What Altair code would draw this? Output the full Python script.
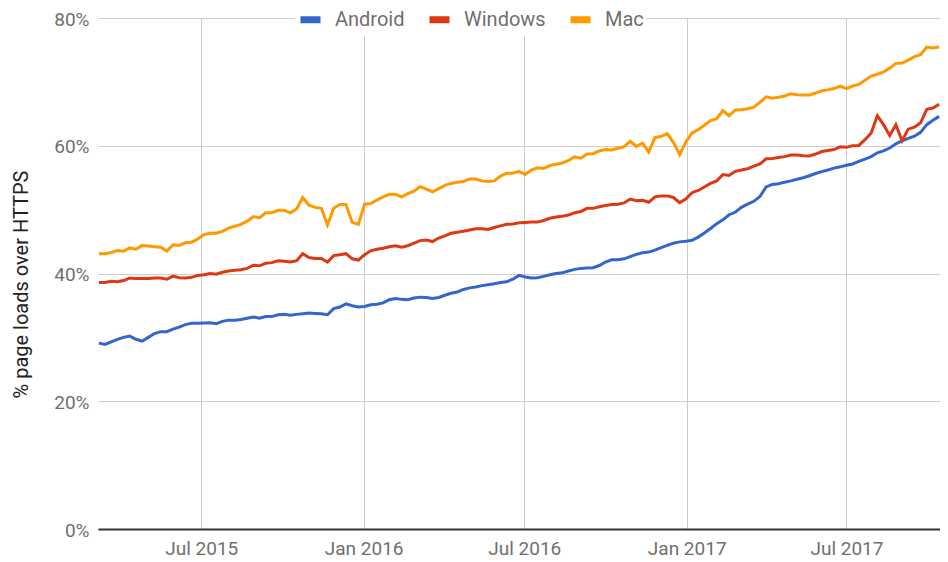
import altair as alt
import pandas as pd

series_names = ["Android", "Windows", "Mac"]
series_colors = ["#3366CC", "#DC3912", "#FF9900"]

# weekly observations, first week 2015-03-07
start_date = "2015-03-07"

android = [29.1, 28.9, 29.3, 29.7, 30.0, 30.2, 29.7, 29.4, 30.0, 30.6,
           30.9, 30.9, 31.3, 31.6, 32.0, 32.2, 32.2, 32.25, 32.3, 32.15,
           32.5, 32.7, 32.7, 32.8, 33.0, 33.2, 33.0, 33.25, 33.25, 33.55,
           33.6, 33.45, 33.6, 33.7, 33.8, 33.75, 33.7, 33.55, 34.5, 34.75,
           35.25, 34.95, 34.75, 34.85, 35.1, 35.2, 35.4, 35.9, 36.1, 35.95,
           35.9, 36.15, 36.3, 36.25, 36.1, 36.25, 36.6, 36.9, 37.1, 37.5,
           37.75, 37.9, 38.1, 38.25, 38.4, 38.6, 38.7, 39.1, 39.7, 39.45,
           39.3, 39.35, 39.55, 39.8, 40.0, 40.1, 40.4, 40.65, 40.8, 40.85,
           40.9, 41.25, 41.8, 42.15, 42.15, 42.3, 42.65, 43.0, 43.25, 43.35,
           43.65, 44.05, 44.4, 44.75, 44.95, 45.05, 45.2, 45.7, 46.35, 47.05,
           47.8, 48.4, 49.2, 49.6, 50.35, 50.85, 51.3, 52.05, 53.55, 53.95,
           54.05, 54.3, 54.5, 54.75, 55.0, 55.3, 55.65, 55.95, 56.2, 56.5,
           56.7, 56.95, 57.15, 57.55, 57.9, 58.3, 58.9, 59.2, 59.65, 60.3,
           60.75, 61.15, 61.5, 62.1, 63.3, 64.0, 64.6]

windows = [38.6, 38.6, 38.8, 38.7, 38.9, 39.3, 39.2, 39.2, 39.2, 39.3,
           39.3, 39.1, 39.6, 39.35, 39.3, 39.4, 39.7, 39.8, 40.0, 39.9,
           40.2, 40.4, 40.5, 40.6, 40.8, 41.3, 41.2, 41.6, 41.7, 42.0,
           41.9, 41.8, 42.0, 43.1, 42.5, 42.35, 42.35, 41.8, 42.8, 42.95,
           43.1, 42.3, 42.1, 42.95, 43.55, 43.8, 43.95, 44.2, 44.35, 44.1,
           44.35, 44.75, 45.15, 45.25, 45.0, 45.55, 45.9, 46.3, 46.45, 46.6,
           46.8, 47.0, 47.0, 46.9, 47.2, 47.45, 47.7, 47.75, 47.95, 48.0,
           48.05, 48.05, 48.3, 48.65, 48.85, 48.95, 49.15, 49.5, 49.7, 50.2,
           50.2, 50.45, 50.65, 50.8, 50.85, 51.05, 51.65, 51.4, 51.45, 51.15,
           52.0, 52.15, 52.15, 51.9, 51.1, 51.65, 52.65, 53.0, 53.55, 54.1,
           54.5, 55.5, 55.35, 56.0, 56.2, 56.4, 56.8, 57.15, 57.95, 58.0,
           58.15, 58.3, 58.55, 58.55, 58.45, 58.4, 58.7, 59.1, 59.25, 59.4,
           59.85, 59.75, 60.0, 60.05, 60.95, 62.0, 64.7, 63.3, 61.6, 63.3,
           60.8, 62.6, 62.9, 63.6, 65.7, 65.9, 66.5]

mac = [43.1, 43.1, 43.3, 43.6, 43.5, 44.0, 43.8, 44.4, 44.3, 44.2,
       44.1, 43.5, 44.5, 44.4, 44.8, 44.9, 45.4, 46.1, 46.3, 46.3,
       46.6, 47.1, 47.4, 47.7, 48.2, 48.9, 48.7, 49.5, 49.5, 49.9,
       49.9, 49.5, 50.1, 51.9, 50.7, 50.35, 50.2, 47.6, 50.2, 50.8,
       50.8, 48.0, 47.7, 50.85, 50.95, 51.5, 52.0, 52.4, 52.4, 52.0,
       52.5, 52.9, 53.6, 53.2, 52.8, 53.3, 53.8, 54.1, 54.3, 54.4,
       54.8, 54.8, 54.5, 54.4, 54.5, 55.25, 55.7, 55.7, 56.0, 55.5,
       56.2, 56.55, 56.45, 56.9, 57.1, 57.3, 57.7, 58.25, 58.05, 58.7,
       58.75, 59.2, 59.4, 59.35, 59.6, 59.85, 60.7, 59.9, 60.4, 59.0,
       61.3, 61.45, 61.9, 60.5, 58.6, 60.6, 62.0, 62.5, 63.2, 63.95,
       64.25, 65.5, 64.7, 65.6, 65.65, 65.8, 66.05, 66.8, 67.65, 67.45,
       67.6, 67.8, 68.15, 68.0, 67.95, 67.95, 68.25, 68.6, 68.75, 68.95,
       69.35, 68.95, 69.35, 69.6, 70.25, 70.9, 71.2, 71.55, 72.15, 72.9,
       72.95, 73.4, 73.95, 74.25, 75.45, 75.3, 75.45]

y_ticks = [0, 20, 40, 60, 80]
x_tick_dates = [(2015, 7), (2016, 1), (2016, 7), (2017, 1), (2017, 7)]

dates = pd.date_range(start_date, periods=len(android), freq="7D")
rows = []
for name, vals in zip(series_names, [android, windows, mac]):
    for d, v in zip(dates, vals):
        rows.append({"date": d.strftime("%Y-%m-%d"), "value": v, "os": name})
df = pd.DataFrame(rows)

FONT = "Roboto"
LABEL_COLOR = "#6f6f6f"

chart = alt.Chart(df).mark_line(strokeWidth=3).encode(
    x=alt.X(
        "date:T",
        scale=alt.Scale(
            type="utc",
            domain=[alt.DateTime(year=2015, month=3, date=6, utc=True),
                    alt.DateTime(year=2017, month=10, date=15, utc=True)],
        ),
        axis=alt.Axis(
            values=[alt.DateTime(year=y, month=m, date=1, utc=True) for y, m in x_tick_dates],
            format="%b %Y",
            title=None,
            grid=True,
            gridColor="#cccccc",
            gridWidth=1,
            domain=True,
            domainColor="#333333",
            domainWidth=2,
            ticks=False,
            labelPadding=10,
            labelFont=FONT,
            labelFontSize=19,
            labelColor=LABEL_COLOR,
        ),
    ),
    y=alt.Y(
        "value:Q",
        scale=alt.Scale(domain=[0, 80], nice=False),
        axis=alt.Axis(
            values=y_ticks,
            labelExpr="datum.value + '%'",
            title="% page loads over HTTPS",
            titleFont=FONT,
            titleFontSize=20,
            titleFontWeight="normal",
            titleColor="#222222",
            titleAngle=-90,
            titleX=-71,
            titleY=266,
            titleAlign="center",
            titleBaseline="alphabetic",
            grid=True,
            gridColor="#cccccc",
            gridWidth=1,
            domain=False,
            ticks=False,
            labelPadding=9,
            labelOffset=1,
            labelFont=FONT,
            labelFontSize=19,
            labelColor=LABEL_COLOR,
        ),
    ),
    color=alt.Color(
        "os:N",
        scale=alt.Scale(domain=series_names, range=series_colors),
        legend=alt.Legend(
            orient="none",
            legendX=197,
            legendY=-14,
            direction="horizontal",
            title=None,
            labelFont=FONT,
            labelFontSize=20,
            labelColor=LABEL_COLOR,
            symbolType="stroke",
            symbolStrokeWidth=7,
            symbolSize=400,
            labelOffset=11,
            columnPadding=10,
            fillColor="white",
            padding=2,
        ),
    ),
    order=alt.Order("os:N"),
).properties(
    width=842,
    height=511,
    autosize=alt.AutoSizeParams(type="none"),
    padding={"left": 90, "top": 10, "right": 0, "bottom": 33},
).configure_view(stroke=None)

chart.save("out.html", embed_options={"renderer": "svg", "actions": False})
